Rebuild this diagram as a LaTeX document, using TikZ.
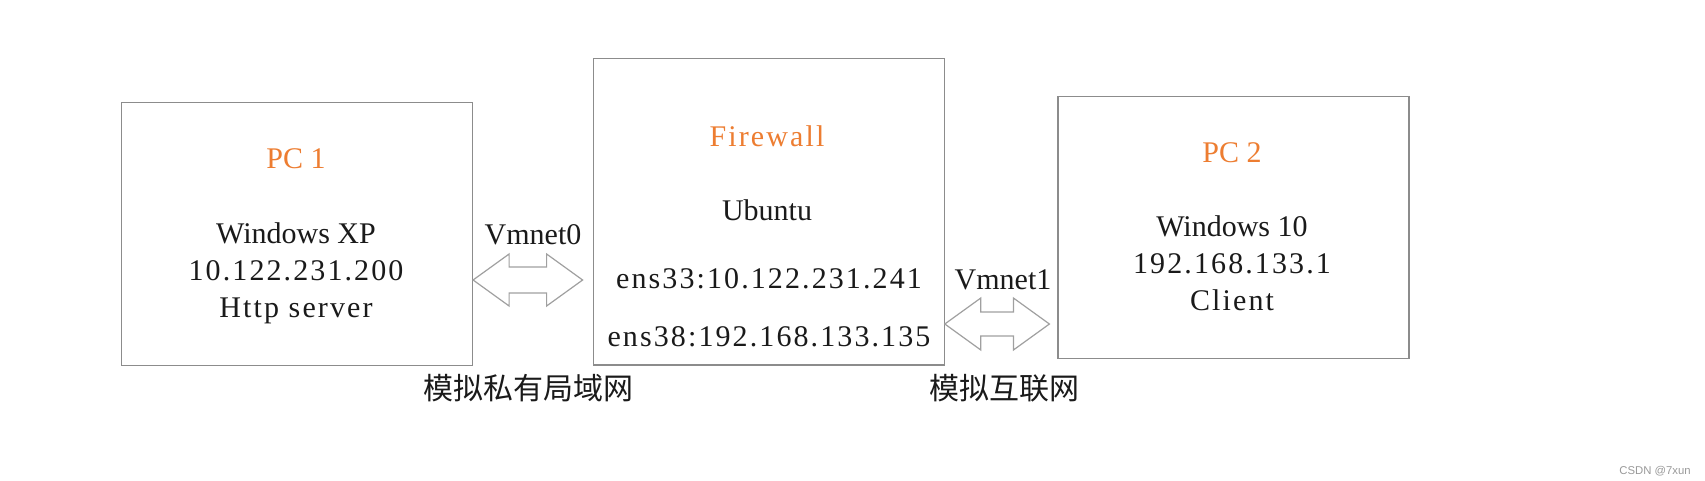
\documentclass[tikz,border=0pt]{standalone}
\usepackage{fontspec}
\setmainfont{Liberation Serif}
\newfontfamily\spacedfont{Liberation Serif}[LetterSpace=7]
\newfontfamily\cjkfont{Noto Sans CJK SC}
\newfontfamily\wmfont{Liberation Sans}
\usetikzlibrary{calc}
\definecolor{orangetxt}{HTML}{ED7D31}
\definecolor{boxgray}{HTML}{8C8C8C}
\definecolor{arrowgray}{HTML}{A0A0A0}
\definecolor{txt}{HTML}{1A1A1A}
\definecolor{wmgray}{HTML}{9A9A9A}
\newcommand{\dblarrow}[5]{%
  \draw[dbl] (#1) -- ($(#1)+(#3,-#4)$) -- ($(#1)+(#3,-#5)$) -- ($(#2)+(-#3,-#5)$)
    -- ($(#2)+(-#3,-#4)$) -- (#2) -- ($(#2)+(-#3,#4)$) -- ($(#2)+(-#3,#5)$)
    -- ($(#1)+(#3,#5)$) -- ($(#1)+(#3,#4)$) -- cycle;}
\begin{document}
\begin{tikzpicture}[x=0.75pt,y=-0.75pt,
  box/.style={draw=boxgray, line width=0.9pt, inner sep=0pt, minimum width=263.25pt},
  lbl/.style={anchor=base, inner sep=0pt, text=txt, font=\fontsize{22.5}{27}\selectfont},
  iplbl/.style={lbl, font=\spacedfont\fontsize{22.5}{27}\selectfont},
  title/.style={lbl, text=orangetxt},
  stitle/.style={iplbl, text=orangetxt},
  cjk/.style={inner sep=0pt, text=txt, font=\cjkfont\fontsize{22.5}{27}\selectfont},
  dbl/.style={draw=arrowgray, line width=0.9pt, line join=miter}
]
\useasboundingbox (0,0) rectangle (1705,481);
\fill[white] (0,0) rectangle (1705,481);

% boxes
\node[box, minimum height=197.55pt] (pc1) at (297,234) {};
\node[box, minimum height=230pt] (fw) at (768.7,211.7) {};
\node[box, minimum height=196.5pt] (pc2) at (1233.5,227.8) {};

% PC 1 texts
\node[title] (pc1t) at (296,168.5) {PC 1};
\node[lbl] (pc1os) at (296,243.5) {Windows XP};
\node[iplbl] (pc1ip) at (296,280) {10.122.231.200};
\node[iplbl] (pc1role) at (296,317) {Http server};

% Firewall texts
\node[stitle] (fwt) at (767,146.7) {Firewall};
\node[lbl] (fwos) at (767,220) {Ubuntu};
\node[iplbl] (fwip1) at (769,288.5) {ens33:10.122.231.241};
\node[iplbl] (fwip2) at (769,346) {ens38:192.168.133.135};

% PC 2 texts
\node[title] (pc2t) at (1232,162) {PC 2};
\node[lbl] (pc2os) at (1232,236) {Windows 10};
\node[iplbl] (pc2ip) at (1232,273) {192.168.133.1};
\node[iplbl] (pc2role) at (1232,310) {Client};

% arrows
\coordinate (y1) at (0,280);
\coordinate (y2) at (0,324);
\coordinate (a1l) at (pc1.east |- y1);
\coordinate (a1r) at ($(fw.west |- y1)+(-10,0)$);
\coordinate (a2l) at (fw.east |- y2);
\coordinate (a2r) at ($(pc2.west |- y2)+(-8,0)$);
\dblarrow{a1l}{a1r}{36}{26}{13}
\dblarrow{a2l}{a2r}{36}{26}{12}

\node[lbl] (vm0) at (533,244) {Vmnet0};
\node[lbl] (vm1) at (1003,289.5) {Vmnet1};

% network labels
\node[cjk] (lan) at (528,388) {模拟私有局域网};
\node[cjk] (wan) at (1004,388) {模拟互联网};

% watermark
\node[inner sep=0pt, text=wmgray, font=\wmfont\fontsize{8.5}{10}\selectfont] (wm) at (1655,471) {CSDN @7xun};
\end{tikzpicture}
\end{document}
